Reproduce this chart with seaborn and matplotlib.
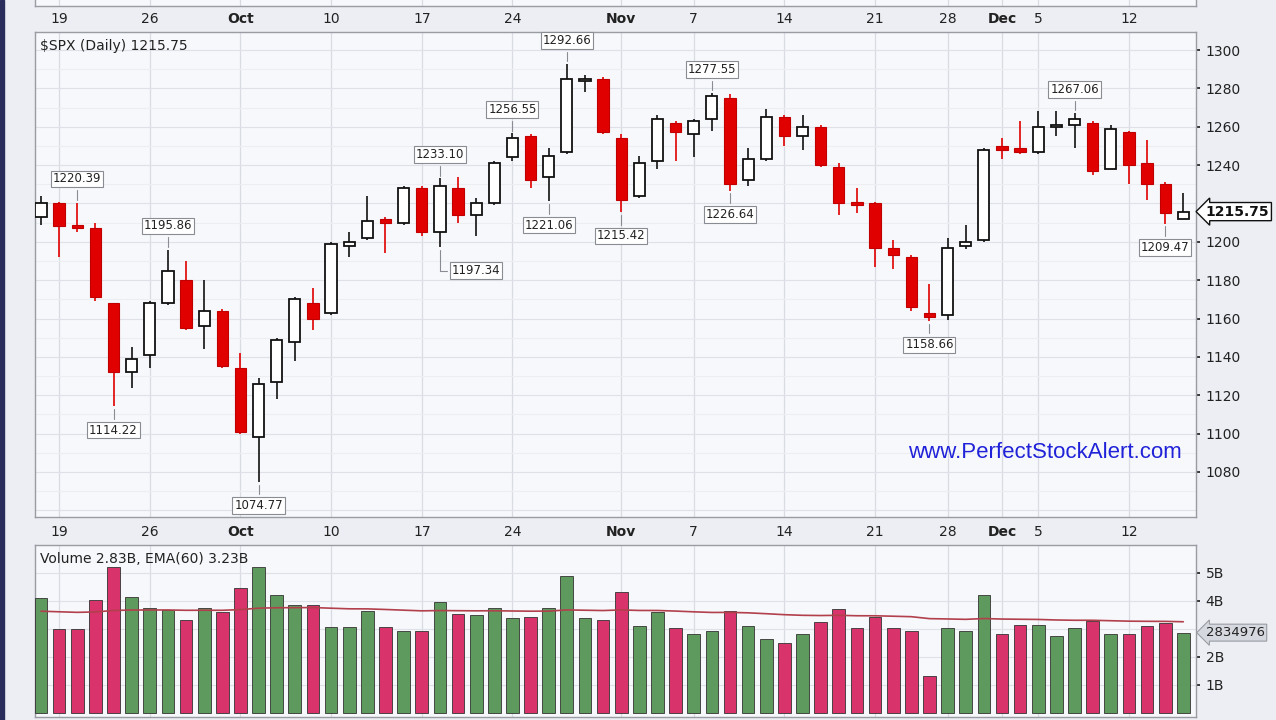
import numpy as np
import pandas as pd
import matplotlib
matplotlib.use("Agg")
import matplotlib.pyplot as plt
import seaborn as sns

# ---- data ----
opens  = [1213,1220,1209,1207,1168,1132,1141,1168,1180,1156,1164,1134,1098,1127,1148,1168,
          1163,1198,1202,1212,1210,1228,1205,1228,1214,1220,1244,1255,1234,1247,1284,1285,
          1254,1224,1242,1262,1256,1264,1275,1232,1243,1265,1255,1260,1239,1221,1220,1197,
          1192,1163,1162,1198,1201,1250,1249,1247,1260,1261,1262,1238,1257,1241,1230,1212.12]
highs  = [1224,1221,1220.39,1210,1168,1145,1169,1195.86,1190,1180,1165,1142,1129,1150,1171,1176,
          1200,1205,1224,1213,1229,1229,1233.10,1234,1223,1242,1256.55,1256,1249,1292.66,1287,1286,
          1256,1245,1266,1263,1264,1277.55,1277,1249,1269,1266,1266,1261,1241,1228,1221,1201,
          1193,1178,1202,1209,1249,1254,1263,1268,1268,1267.06,1263,1261,1258,1253,1231,1225.6]
lows   = [1209,1192,1205,1169,1114.22,1124,1134,1167,1154,1144,1134,1100,1074.77,1118,1138,1154,
          1162,1192,1201,1194,1209,1203,1197.34,1210,1203,1219,1242,1228,1221.06,1246,1278,1256,
          1215.42,1223,1238,1242,1244,1258,1226.64,1229,1242,1250,1248,1239,1214,1215,1187,1186,
          1164,1158.66,1159,1196,1200,1243,1246,1246,1255,1249,1235,1238,1230,1222,1209.47,1212.12]
closes = [1220,1208,1207,1171,1132,1139,1168,1185,1155,1164,1135,1101,1126,1149,1170,1160,
          1199,1200,1211,1210,1228,1205,1229,1214,1220,1241,1254,1232,1245,1285,1285,1257,
          1222,1241,1264,1257,1263,1276,1230,1243,1265,1255,1260,1240,1220,1219,1197,1193,
          1166,1161,1197,1200,1248,1248,1247,1260,1261,1264,1237,1259,1240,1230,1215,1215.75]
volumes = [4.10,3.00,3.00,4.04,5.20,4.15,3.74,3.68,3.32,3.74,3.60,4.45,5.23,4.21,3.86,3.86,
           3.07,3.07,3.65,3.07,2.94,2.94,3.95,3.52,3.50,3.74,3.38,3.44,3.74,4.89,3.38,3.32,
           4.33,3.11,3.62,3.02,2.82,2.94,3.65,3.11,2.63,2.49,2.82,3.26,3.70,3.02,3.42,3.02,
           2.94,1.32,3.02,2.94,4.21,2.82,3.14,3.14,2.75,3.02,3.30,2.82,2.82,3.11,3.20,2.87]
ema_seed = 3.62
day_labels = {1: "19", 6: "26", 11: "Oct", 16: "10", 21: "17", 26: "24", 32: "Nov", 36: "7",
              41: "14", 46: "21", 50: "28", 53: "Dec", 55: "5", 60: "12"}
bold_labels = {"Oct", "Nov", "Dec"}
annotations = [(2, 1220.39, "up", 0.0), (4, 1114.22, "down", 0.0), (7, 1195.86, "up", 0.0),
               (12, 1074.77, "down", 0.0), (22, 1233.10, "up", 0.0), (22, 1197.34, "down", 2.0),
               (26, 1256.55, "up", 0.0), (28, 1221.06, "down", 0.0), (29, 1292.66, "up", 0.0),
               (32, 1215.42, "down", 0.0), (37, 1277.55, "up", 0.0), (38, 1226.64, "down", 0.0),
               (49, 1158.66, "down", 0.0), (57, 1267.06, "up", 0.0), (62, 1209.47, "down", 0.0)]
price_ticks = [1080, 1100, 1120, 1140, 1160, 1180, 1200, 1240, 1260, 1280, 1300]

n = len(closes)
idx = np.arange(n)
is_down = np.array(closes) < np.array(opens)
df = pd.DataFrame({"i": idx, "vol": volumes,
                   "kind": np.where(is_down, "down", "up")})
ema = []
a = 2 / 61
e = ema_seed
for v in volumes:
    e = a * v + (1 - a) * e
    ema.append(e)
df["ema"] = ema

sns.set_theme(style="white")
plt.rcParams["font.family"] = ["DejaVu Sans"]

W, H = 1276, 720
fig = plt.figure(figsize=(W / 100, H / 100), dpi=100, facecolor="#eceef3")
L, R = 35 / W, 1196 / W
axp = fig.add_axes([L, 1 - 517 / H, R - L, (517 - 32) / H])
axv = fig.add_axes([L, 1 - 717 / H, R - L, (717 - 545) / H])
axt = fig.add_axes([L, 1 - 6 / H, R - L, 0.02])
xl = (-0.33, 63.7)
for ax in (axp, axv, axt):
    ax.set_facecolor("#f7f8fb")
    ax.set_xlim(*xl)
    for s in ax.spines.values():
        s.set_color("#9a9ca4")
        s.set_linewidth(1.0)
    for k in day_labels:
        ax.axvline(k, color="#d9dbe2", lw=0.9, zorder=0)

fig.patches.append(matplotlib.patches.Rectangle((0, 0), 4 / W, 1, transform=fig.transFigure,
                                                color="#2a2d5c", zorder=0))

# ---- price panel ----
axp.set_ylim(1056.5, 1309.4)
for p in range(1060, 1310, 10):
    axp.axhline(p, color="#dfe1e8" if p % 20 == 0 else "#eceef2", lw=0.8, zorder=0)
red = "#e10000"
for i in idx:
    o, h, l, c = opens[i], highs[i], lows[i], closes[i]
    col = red if is_down[i] else "#111111"
    axp.vlines(i, l, h, color=col, lw=1.2, zorder=2)
    lo, hi = min(o, c), max(o, c)
    hgt = max(hi - lo, 0.8)
    if is_down[i]:
        axp.bar(i, hgt, bottom=lo, width=0.62, color=red, edgecolor="#c00000", lw=0.8, zorder=3)
    else:
        axp.bar(i, hgt, bottom=lo, width=0.62, color="white", edgecolor="#111111", lw=1.3, zorder=3)

for i, v, d, dx in annotations:
    y0 = highs[i] if d == "up" else lows[i]
    off = 9 if d == "up" else -9
    axp.annotate(f"{v:.2f}", xy=(i, y0), xytext=(i + dx, y0 + off), ha="center",
                 va="bottom" if d == "up" else "top", fontsize=8.5, color="#222222",
                 bbox=dict(boxstyle="square,pad=0.15", fc="white", ec="#8a8c94", lw=0.8),
                 arrowprops=dict(arrowstyle="-", color="#8a8c94", lw=0.8,
                                 connectionstyle="angle,angleA=0,angleB=90"),
                 zorder=5)

axp.yaxis.tick_right()
axp.set_yticks(price_ticks)
axp.set_yticklabels([str(t) for t in price_ticks])
axp.tick_params(axis="y", labelsize=10, colors="#222222", length=3, pad=4)
axp.set_xticks(list(day_labels.keys()))
axp.set_xticklabels(list(day_labels.values()))
axp.tick_params(axis="x", labelsize=10, colors="#222222", length=0, pad=6)
for t in axp.get_xticklabels():
    if t.get_text() in bold_labels:
        t.set_fontweight("bold")
axp.text(0.004, 0.985, "$SPX (Daily) 1215.75", transform=axp.transAxes, ha="left", va="top",
         fontsize=10, color="#222222")
axp.text(0.87, 0.133, "www.PerfectStockAlert.com", transform=axp.transAxes, ha="center",
         va="center", fontsize=16, color="#1f22d8", family=["Liberation Sans"])
axp.annotate("1215.75", xy=(1.0, closes[-1]), xycoords=("axes fraction", "data"),
             xytext=(7, 0), textcoords="offset points", ha="left", va="center", fontsize=10,
             fontweight="bold", color="#111111", annotation_clip=False,
             bbox=dict(boxstyle="larrow,pad=0.15", fc="white", ec="#111111", lw=1.0), zorder=6)

# ---- top strip ----
axt.set_ylim(0, 1)
axt.set_yticks([])
axt.set_xticks(list(day_labels.keys()))
axt.set_xticklabels(list(day_labels.values()))
axt.tick_params(axis="x", labelsize=10, colors="#222222", length=0, pad=4)
for t in axt.get_xticklabels():
    if t.get_text() in bold_labels:
        t.set_fontweight("bold")

# ---- volume panel ----
vcolors = {"down": "#d8336a", "up": "#5e9a5e"}
sns.barplot(data=df, x="i", y="vol", width=0.7, color=vcolors["up"], saturation=1,
            edgecolor="#333333", linewidth=0.6, ax=axv, zorder=3)
bars = sorted(axv.patches, key=lambda p: p.get_x())
for bar, k in zip(bars, df["kind"]):
    bar.set_facecolor(vcolors[k])
sns.lineplot(data=df, x="i", y="ema", color="#b2404c", lw=1.2, ax=axv, zorder=4)
axv.set_xlim(*xl)
axv.set_ylim(-0.143, 6.0)
for vv in range(1, 6):
    axv.axhline(vv, color="#dfe1e8", lw=0.8, zorder=0)
axv.set_xticks([])
axv.set_xlabel("")
axv.set_ylabel("")
axv.yaxis.tick_right()
axv.set_yticks([1, 2, 4, 5])
axv.set_yticklabels(["1B", "2B", "4B", "5B"])
axv.tick_params(axis="y", labelsize=10, colors="#222222", length=3, pad=4)
axv.text(0.004, 0.96, "Volume 2.83B, EMA(60) 3.23B", transform=axv.transAxes, ha="left",
         va="top", fontsize=10, color="#222222")
axv.annotate("2834976", xy=(1.0, volumes[-1]), xycoords=("axes fraction", "data"),
             xytext=(7, 0), textcoords="offset points", ha="left", va="center", fontsize=9.5,
             color="#222222", annotation_clip=False,
             bbox=dict(boxstyle="larrow,pad=0.15", fc="#d5d8de", ec="#9a9ca4", lw=0.8), zorder=6)

fig.savefig("out.png", dpi=100, facecolor=fig.get_facecolor())
